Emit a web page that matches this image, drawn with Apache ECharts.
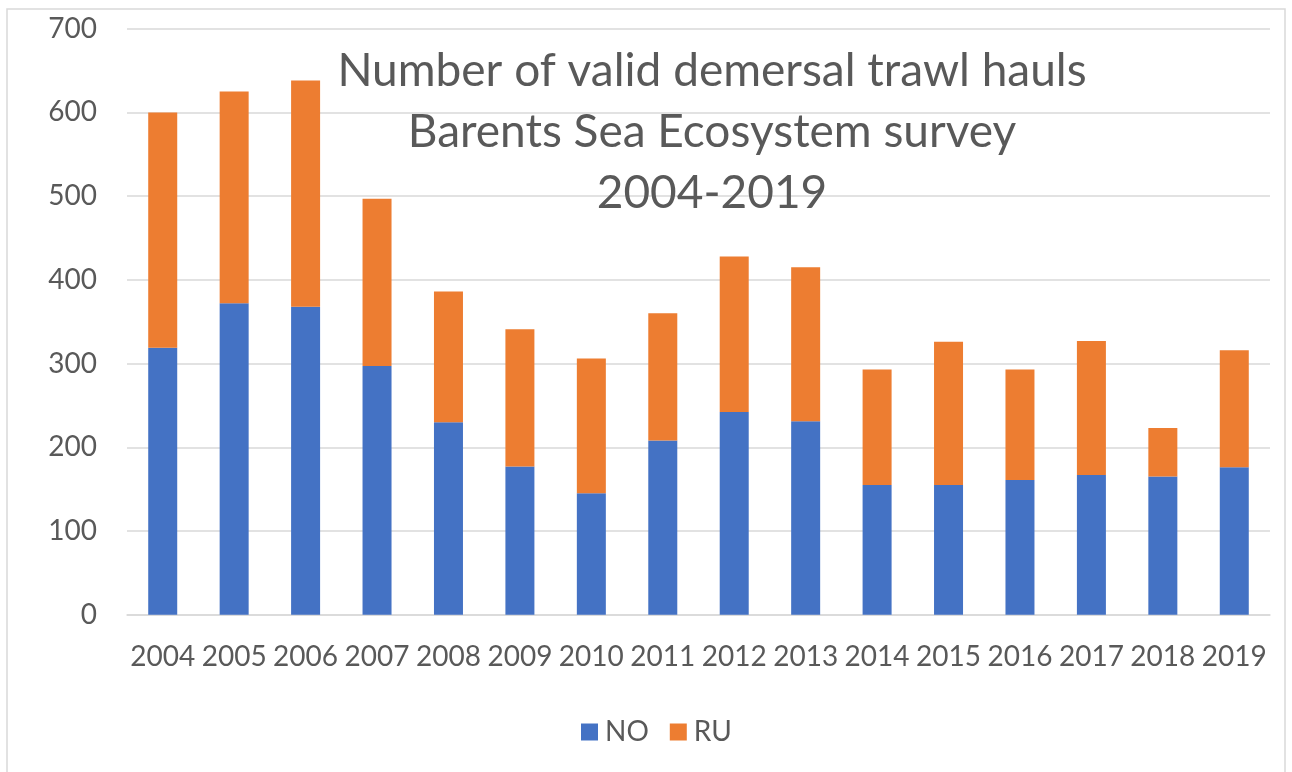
<!DOCTYPE html>
<html>
<head>
<meta charset="utf-8">
<title>Valid demersal trawl hauls</title>
<script src="https://cdn.jsdelivr.net/npm/echarts@6/dist/echarts.min.js"></script>
<style>
  html, body { margin: 0; padding: 0; background: #fff; }
  #chart { width: 1292px; height: 772px; }
</style>
</head>
<body>
<div id="chart"></div>
<script>
'use strict';

var years = ['2004', '2005', '2006', '2007', '2008', '2009', '2010', '2011',
  '2012', '2013', '2014', '2015', '2016', '2017', '2018', '2019'];
var hauls_no = [319, 372, 368, 297, 230, 177, 145, 208, 242, 231, 155, 155, 161, 167, 165, 176];
var hauls_ru = [281, 253, 270, 200, 156, 164, 161, 152, 186, 184, 138, 171, 132, 160, 58, 140];
var yTicks = [0, 100, 200, 300, 400, 500, 600, 700];

var fontFamily = 'Lato, "Open Sans", sans-serif';
var textColor = '#595959';
var lineColor = '#d9d9d9';

function getSeries(name, data, color) {
  return {
    name: name,
    type: 'bar',
    stack: 'total',
    barWidth: 29,
    itemStyle: { color: color },
    data: data
  };
}

var chart = echarts.init(document.getElementById('chart'), null, { renderer: 'canvas' });

var options = {
  backgroundColor: '#fff',
  animation: false,
  title: {
    text: 'Number of valid demersal trawl hauls\nBarents Sea Ecosystem survey\n2004-2019',
    left: 707,
    top: 36,
    textAlign: 'center',
    textStyle: {
      fontFamily: fontFamily,
      fontSize: 46,
      fontWeight: 'normal',
      lineHeight: 61,
      color: textColor
    }
  },
  legend: {
    left: 576,
    top: 713,
    icon: 'rect',
    itemWidth: 17,
    itemHeight: 17,
    itemGap: 21,
    textStyle: { fontFamily: fontFamily, fontSize: 28, color: textColor, padding: [0, 0, 0, 2] },
    data: ['NO', 'RU']
  },
  grid: {
    left: 127,
    right: 22,
    top: 28.7,
    bottom: 157.3
  },
  xAxis: {
    type: 'category',
    data: years,
    axisLine: { show: true, lineStyle: { color: lineColor, width: 1.5 } },
    axisTick: { show: false },
    axisLabel: {
      interval: 0,
      margin: 28,
      fontFamily: fontFamily,
      fontSize: 28,
      color: textColor
    }
  },
  yAxis: {
    type: 'value',
    min: yTicks[0],
    max: yTicks[yTicks.length - 1],
    interval: 100,
    axisLine: { show: false },
    axisTick: { show: false },
    splitLine: { lineStyle: { color: lineColor, width: 1.5 } },
    axisLabel: {
      margin: 30,
      fontFamily: fontFamily,
      fontSize: 28,
      color: textColor
    }
  },
  // outer chart-area frame
  graphic: [{
    type: 'rect',
    shape: { x: 7, y: 9, width: 1278, height: 772 },
    style: { fill: null, stroke: lineColor, lineWidth: 1.5 },
    silent: true
  }],
  series: [
    getSeries('NO', hauls_no, '#4472c4'),
    getSeries('RU', hauls_ru, '#ed7d31')
  ]
};

chart.setOption(options);
</script>
</body>
</html>
